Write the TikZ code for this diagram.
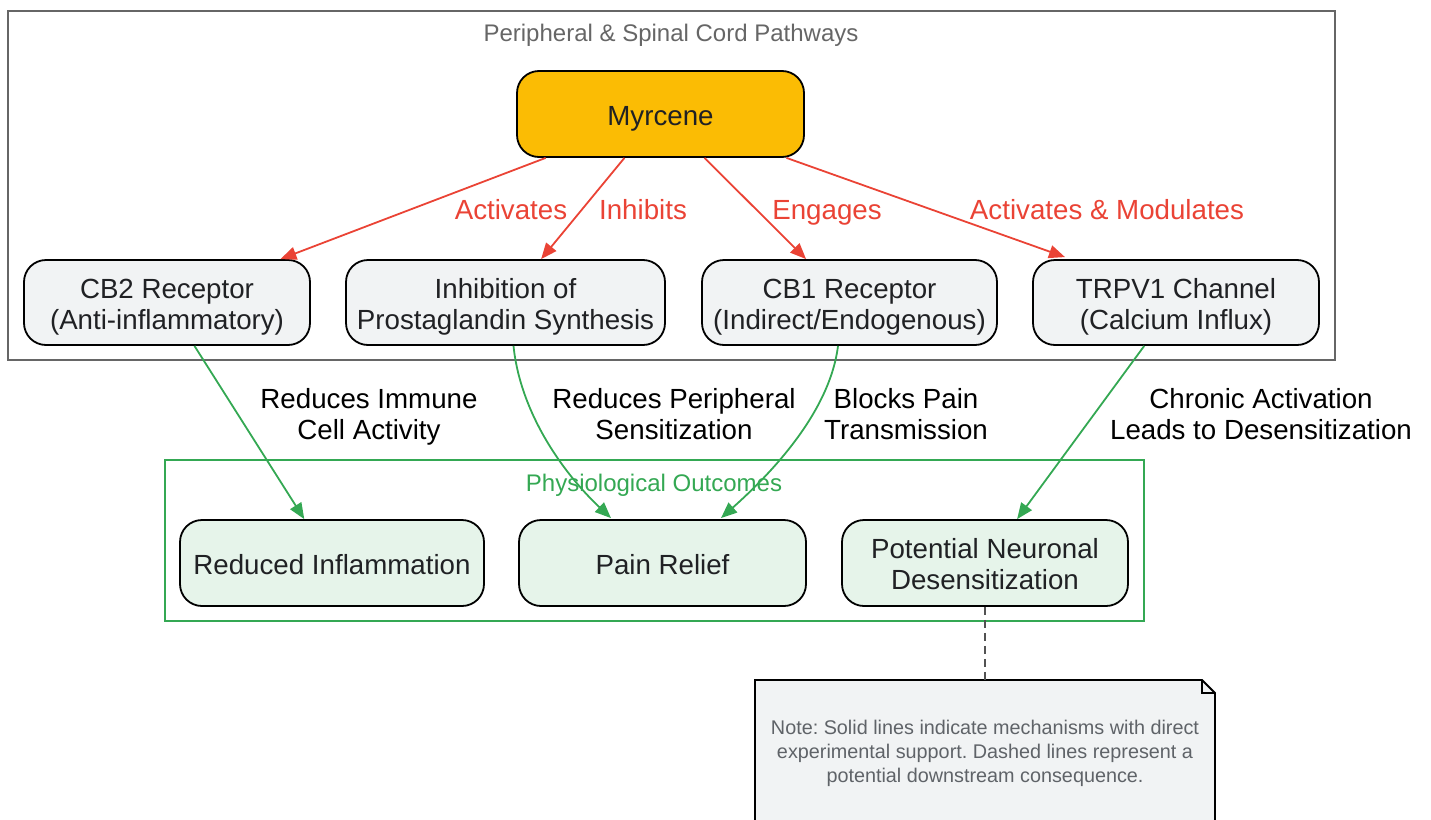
\documentclass[tikz,border=0pt]{standalone}
\usepackage{fontspec}
\setmainfont{Liberation Sans}
\usetikzlibrary{arrows.meta,calc}
\definecolor{myrfill}{HTML}{FBBC04}
\definecolor{grayfill}{HTML}{F1F3F4}
\definecolor{greenfill}{HTML}{E6F4EA}
\definecolor{redline}{HTML}{EA4335}
\definecolor{greenline}{HTML}{34A853}
\definecolor{clustergray}{HTML}{666666}
\definecolor{textdark}{HTML}{202124}
\definecolor{notetext}{HTML}{5F6368}
\newcommand{\tl}[1]{\rule[-4.1pt]{0pt}{31pt}\smash{#1}}
\tikzset{
  box/.style={draw=black, line width=1.8pt, rounded corners=22pt, inner sep=0pt,
    align=center, text=textdark, font=\fontsize{27.7}{31}\selectfont},
  topbox/.style={box, fill=myrfill, minimum width=287pt, minimum height=86pt},
  midbox/.style={box, fill=grayfill, minimum height=85pt},
  outbox/.style={box, fill=greenfill, minimum height=86pt},
  redarrow/.style={draw=redline, line width=1.8pt, -{Triangle[length=16pt,width=13pt]}},
  greenarrow/.style={draw=greenline, line width=1.8pt, -{Triangle[length=16pt,width=13pt]}},
  redlabel/.style={text=redline, font=\fontsize{27.7}{31}\selectfont, inner sep=0pt},
  blacklabel/.style={text=black, font=\fontsize{27.7}{31}\selectfont, align=center, inner sep=0pt},
  clustertitle/.style={font=\fontsize{24}{28}\selectfont, inner sep=0pt},
}
\begin{document}
\frenchspacing
\begin{tikzpicture}[x=1pt,y=-1pt]
\useasboundingbox (0,0) rectangle (1431,819);
% clusters
\draw[clustergray, line width=1.8pt] (8,11) rectangle (1335,360);
\node[clustertitle, text=clustergray] (t1) at (671,35) {Peripheral \& Spinal Cord Pathways};
\draw[greenline, line width=1.8pt] (165,460) rectangle (1144,621);
\node[clustertitle, text=greenline] (t2) at (654,485) {Physiological Outcomes};
% nodes
\node[topbox] (myr) at (660.5,114) {\tl{Myrcene}};
\node[midbox, minimum width=286pt] (cb2) at (167,302.5) {\tl{CB2 Receptor}\\\tl{(Anti-inflammatory)}};
\node[midbox, minimum width=319pt] (inh) at (505.5,302.5) {\tl{Inhibition of}\\\tl{Prostaglandin Synthesis}};
\node[midbox, minimum width=295pt] (cb1) at (849.5,302.5) {\tl{CB1 Receptor}\\\tl{(Indirect/Endogenous)}};
\node[midbox, minimum width=286pt] (trp) at (1176,302.5) {\tl{TRPV1 Channel}\\\tl{(Calcium Influx)}};
\node[outbox, minimum width=304pt] (red) at (332,563) {\tl{Reduced Inflammation}};
\node[outbox, minimum width=287pt] (pain) at (662.5,563) {\tl{Pain Relief}};
\node[outbox, minimum width=286pt] (pot) at (985,563) {\tl{Potential Neuronal}\\\tl{Desensitization}};
% red edges
\draw[redarrow] (myr) -- (cb2);
\draw[redarrow] (myr) -- (inh);
\draw[redarrow] (myr) -- (cb1);
\draw[redarrow] ($(myr.south)+(126,0)$) -- ($(trp.north)+(-111,-2)$);
\node[redlabel] (l1) at (511,210) {Activates};
\node[redlabel] (l2) at (643,210) {Inhibits};
\node[redlabel] (l3) at (827,213) {Engages};
\node[redlabel] (l4) at (1107,210) {Activates \& Modulates};
% green edges
\draw[greenarrow] (cb2) -- (red);
\draw[greenarrow] ($(inh.south)+(8,0)$) .. controls (520,410) and (560,470) .. ($(pain.north)+(-51.5,-1)$);
\draw[greenarrow] ($(cb1.south)+(-11.5,0)$) .. controls (830,410) and (775,470) .. ($(pain.north)+(58.5,-1)$);
\draw[greenarrow] (trp) -- (pot);
\node[blacklabel] (l5) at (369,417) {Reduces Immune\\Cell Activity};
\node[blacklabel] (l6) at (674,414) {Reduces Peripheral\\Sensitization};
\node[blacklabel] (l7) at (906,414) {Blocks Pain\\Transmission};
\node[blacklabel] (l8) at (1261,414) {Chronic Activation\\Leads to Desensitization};
% note
\coordinate (notetop) at (985,680);
\draw[fill=grayfill, draw=black, line width=1.8pt] (755,840) -- (755,680) -- (1202,680) -- (1215,693) -- (1215,840);
\draw[black, line width=1.5pt] (1202,680) -- (1202,693) -- (1215,693);
\node[text=notetext, align=center, inner sep=0pt, font=\fontsize{19.8}{24}\selectfont] (note) at (985,753)
  {Note: Solid lines indicate mechanisms with direct\\experimental support. Dashed lines represent a\\potential downstream consequence.};
\draw[draw=clustergray!80!black, line width=1.5pt, dash pattern=on 8pt off 5pt] (pot) -- (notetop);
\end{tikzpicture}
\end{document}
